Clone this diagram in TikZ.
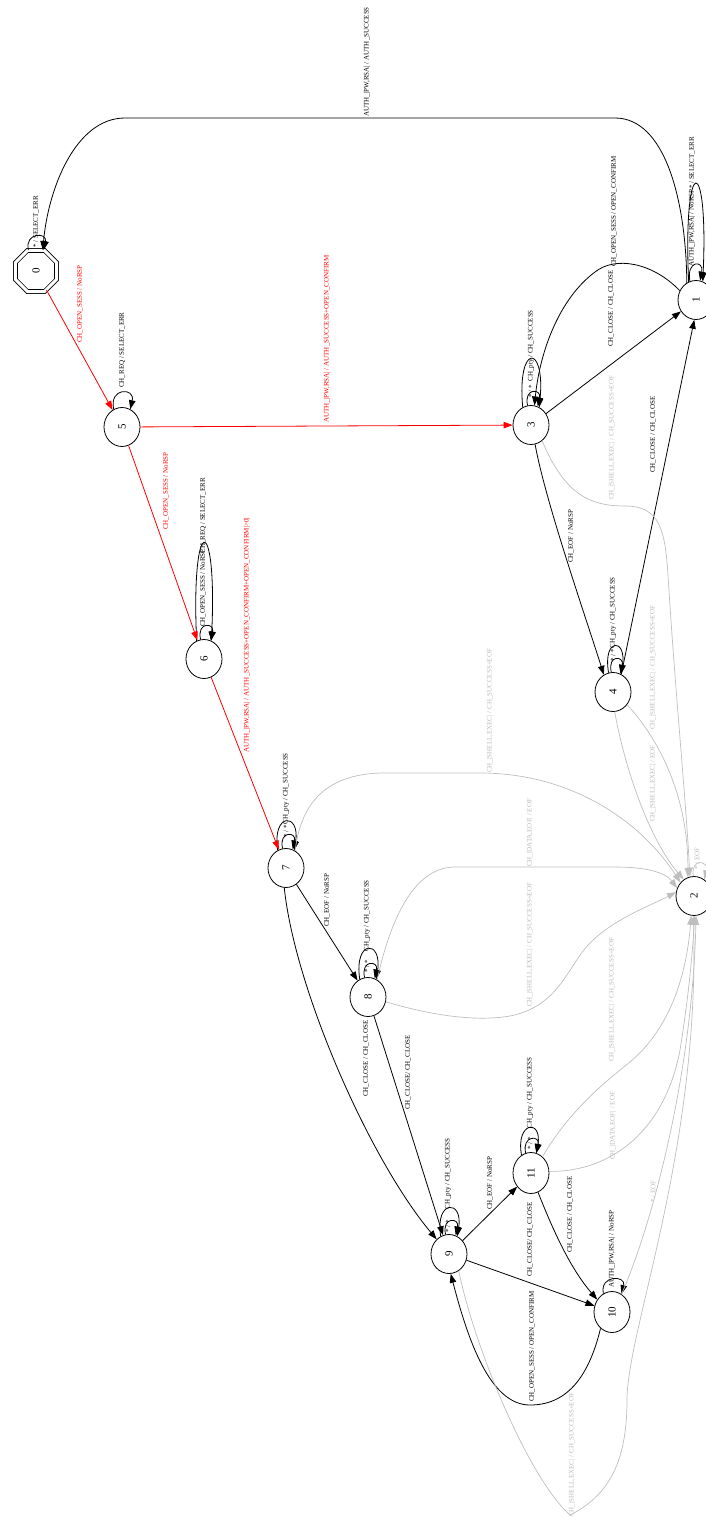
\documentclass[tikz,border=0pt]{standalone}
\usepackage{fontspec}
\setmainfont{Liberation Serif}
\usetikzlibrary{arrows.meta,shapes.geometric}
\definecolor{gr}{RGB}{190,190,190}
\definecolor{grt}{RGB}{185,185,185}
\begin{document}
\begin{tikzpicture}[x=1pt,y=-1pt,
  st/.style={ellipse, draw, line width=0.8pt, minimum width=36pt, minimum height=39pt, inner sep=0pt, font=\fontsize{11}{12}\selectfont},
  stw/.style={st, minimum height=41pt},
  lb/.style={rotate=90, font=\fontsize{7}{8}\selectfont, inner sep=0pt, anchor=west},
  lbe/.style={lb, anchor=east},
  ed/.style={line width=0.8pt, -{Triangle[length=9pt,width=6.5pt]}},
  edr/.style={ed, red},
  edg/.style={ed, gr, line width=0.7pt}]
\useasboundingbox (0,0) rectangle (706,1517);
% states
\node[regular polygon, regular polygon sides=8, minimum size=44.4pt, draw, line width=0.8pt, double=white, double distance=3pt, inner sep=0pt, font=\fontsize{11}{12}\selectfont] (n0) at (36,271) {\rotatebox{90}{0}};
\node[st] (n5) at (122,427) {\rotatebox{90}{5}};
\node[st] (n3) at (531,425) {\rotatebox{90}{3}};
\node[st] (n1) at (696,300) {\rotatebox{90}{1}};
\node[st] (n6) at (204,659) {\rotatebox{90}{6}};
\node[st] (n7) at (286,868) {\rotatebox{90}{7}};
\node[st] (n4) at (613,692) {\rotatebox{90}{4}};
\node[st] (n2) at (694,896) {\rotatebox{90}{2}};
\node[st] (n8) at (368,997) {\rotatebox{90}{8}};
\node[st] (n9) at (449,1254) {\rotatebox{90}{9}};
\node[stw] (n11) at (531,1173) {\rotatebox{90}{11}};
\node[stw] (n10) at (612,1312) {\rotatebox{90}{10}};
% black edges
\draw[ed] (n1.118) .. controls (686,200) and (665,118) .. (615,118) -- (125,118) .. controls (75,118) and (48,190) .. (n0.72);
\draw[ed] (n0.110) .. controls +(-4,-18) and +(4,-18) .. (n0.70);
\draw[ed] (n5.115) .. controls +(-5,-22) and +(5,-22) .. (n5.65);
\draw[ed] (n6.100) .. controls +(-4,-18) and +(4,-18) .. (n6.70);
\draw[ed] (n6.112) .. controls +(-6,-130) and +(6,-130) .. (n6.68);
\draw[ed] (n7.100) .. controls +(-4,-18) and +(4,-18) .. (n7.70);
\draw[ed] (n7.115) .. controls +(-6,-38) and +(6,-38) .. (n7.65);
\draw[ed] (n7) -- (n8);
\draw[ed] (n7.265) .. controls (295,990) and (370,1160) .. (n9.130);
\draw[ed] (n8.100) .. controls +(-4,-18) and +(4,-18) .. (n8.70);
\draw[ed] (n8.115) .. controls +(-6,-40) and +(6,-40) .. (n8.65);
\draw[ed] (n8) -- (n9);
\draw[ed] (n9.100) .. controls +(-4,-18) and +(4,-18) .. (n9.70);
\draw[ed] (n9.115) .. controls +(-6,-37) and +(6,-37) .. (n9.65);
\draw[ed] (n9) -- (n11);
\draw[ed] (n9) -- (n10);
\draw[ed] (n11.105) .. controls +(-4,-18) and +(4,-18) .. (n11.75);
\draw[ed] (n11.118) .. controls +(-6,-34) and +(6,-34) .. (n11.75);
\draw[ed] (n11.290) .. controls (553,1230) and (570,1268) .. (n10.140);
\draw[ed] (n10.115) .. controls +(-4,-19) and +(5,-19) .. (n10.62);
\draw[ed] (n10.235) .. controls (588,1380) and (565,1405) .. (530,1405) .. controls (490,1405) and (468,1340) .. (n9.275);
\draw[ed] (n3.100) .. controls +(-4,-18) and +(4,-18) .. (n3.70);
\draw[ed] (n3.115) .. controls +(-6,-64) and +(6,-64) .. (n3.65);
\draw[ed] (n3) -- (n1);
\draw[ed] (n1.150) .. controls (652,262) and (615,256) .. (595,272) .. controls (560,298) and (540,350) .. (n3.80);
\draw[ed] (n3.282) .. controls (545,500) and (585,615) .. (n4.118);
\draw[ed] (n4.65) -- (n1.265);
\draw[ed] (n4.95) .. controls +(-4,-18) and +(4,-18) .. (n4.68);
\draw[ed] (n4.103) .. controls +(-6,-36) and +(6,-36) .. (n4.66);
\draw[ed] (n1.108) .. controls +(-4,-21) and +(4,-21) .. (n1.78);
\draw[ed] (n1.112) .. controls +(-6,-130) and +(6,-130) .. (n1.70);
% red edges
\draw[edr] (n0) -- (n5);
\draw[edr] (n5) -- (n3);
\draw[edr] (n5) -- (n6);
\draw[edr] (n6) -- (n7);
% gray edges
\draw[edg] (n7.62) .. controls (300,810) and (320,773) .. (385,773) -- (480,773) .. controls (570,773) and (640,820) .. (n2.135);
\draw[edg] (n8.62) .. controls (388,930) and (410,867) .. (455,867) -- (615,867) .. controls (645,867) and (665,872) .. (n2.155);
\draw[edg] (n8.345) .. controls (430,1015) and (475,1022) .. (510,1016) .. controls (560,1006) and (568,965) .. (590,943) .. controls (615,918) and (650,906) .. (n2.168);
\draw[edg] (n11.55) .. controls (570,1110) and (605,1082) .. (630,1062) .. controls (668,1030) and (686,980) .. (n2.262);
\draw[edg] (n11.5) .. controls (612,1172) and (665,1130) .. (680,1050) .. controls (688,1000) and (692,960) .. (n2.272);
\draw[edg] (n10.62) .. controls (650,1230) and (692,1080) .. (n2.276);
\draw[edg] (n9.300) .. controls (475,1350) and (530,1480) .. (570,1515) .. controls (610,1495) and (627,1460) .. (627,1400) .. controls (627,1330) and (700,1150) .. (n2.268);
\draw[edg] (n3.305) .. controls (565,495) and (590,506) .. (625,506) .. controls (660,506) and (665,530) .. (668,575) .. controls (675,690) and (686,800) .. (n2.102);
\draw[edg] (n4.275) .. controls (625,770) and (650,840) .. (n2.122);
\draw[edg] (n4.318) .. controls (655,735) and (688,790) .. (n2.108);
\draw[edg] (n2.92) .. controls +(-3,-19) and +(5,-19) .. (n2.58);
% black labels
\node[lb] (t1) at (367,117) {AUTH\_|PW,RSA| / AUTH\_SUCCESS};
\node[lb] (t2) at (36,248) {* / SELECT\_ERR};
\node[lb] (t3) at (122,388) {CH\_REQ / SELECT\_ERR};
\node[lb] (t4) at (203,627) {CH\_OPEN\_SESS / NoRSP};
\node[lbe] (t5) at (203,478) {CH\_REQ / SELECT\_ERR};
\node[lb] (t6) at (286,838) {* / *};
\node[lbe] (t7) at (286,753) {CH\_pty / CH\_SUCCESS};
\node[lb] (t8) at (327,927) {CH\_EOF / NoRSP};
\node[lb] (t9) at (366,1097) {CH\_CLOSE / CH\_CLOSE};
\node[lb] (t10) at (367,973) {* / *};
\node[lbe] (t11) at (367,880) {CH\_pty / CH\_SUCCESS};
\node[lb] (t12) at (408,1110) {CH\_CLOSE/ CH\_CLOSE};
\node[lb] (t13) at (448,1233) {* / *};
\node[lbe] (t14) at (448,1138) {CH\_pty / CH\_SUCCESS};
\node[lb] (t15) at (490,1210) {CH\_EOF / NoRSP};
\node[lb] (t16) at (530,1277) {CH\_CLOSE/ CH\_CLOSE};
\node[lb] (t17) at (570,1253) {CH\_CLOSE / CH\_CLOSE};
\node[lb] (t18) at (530,1150) {* / *};
\node[lbe] (t19) at (530,1057) {CH\_pty / CH\_SUCCESS};
\node[lb] (t20) at (612,1288) {AUTH\_|PW,RSA| / NoRSP};
\node[lb] (t21) at (532,1402) {CH\_OPEN\_SESS / OPEN\_CONFIRM};
\node[lb] (t22) at (531,398) {* / *};
\node[lbe] (t23) at (531,310) {CH\_pty / CH\_SUCCESS};
\node[lb] (t24) at (611,347) {CH\_CLOSE / CH\_CLOSE};
\node[lb] (t25) at (614,267) {CH\_OPEN\_SESS / OPEN\_CONFIRM};
\node[lb] (t26) at (692,267) {AUTH\_|PW,RSA| / NoRSP};
\node[lbe] (t27) at (692,137) {* / SELECT\_ERR};
\node[lb] (t28) at (571,563) {CH\_EOF / NoRSP};
\node[lb] (t29) at (653,473) {CH\_CLOSE / CH\_CLOSE};
\node[lb] (t30) at (613,662) {* / *};
\node[lbe] (t31) at (613,577) {CH\_pty / CH\_SUCCESS};
% red labels
\node[lb, red] (t32) at (80,343) {CH\_OPEN\_SESS / NoRSP};
\node[lb, red] (t33) at (327,423) {AUTH\_|PW,RSA| / AUTH\_SUCCESS+OPEN\_CONFIRM};
\node[lb, red] (t34) at (166,530) {CH\_OPEN\_SESS / NoRSP};
\node[lb, red] (t35) at (247,753) {AUTH\_|PW,RSA| / AUTH\_SUCCESS+OPEN\_CONFIRM+OPEN\_CONFIRM|>0|};
% gray labels
\node[lb, grt] (t36) at (490,773) {CH\_|SHELL,EXEC| / CH\_SUCCESS+EOF};
\node[lb, grt] (t37) at (530,867) {CH\_|DATA,EOF| / EOF};
\node[lb, grt] (t38) at (530,1007) {CH\_|SHELL,EXEC| / CH\_SUCCESS+EOF};
\node[lb, grt] (t39) at (612,1062) {CH\_|SHELL,EXEC| / CH\_SUCCESS+EOF};
\node[lb, grt] (t40) at (613,1160) {CH\_|DATA,EOF| / EOF};
\node[lb, grt] (t41) at (653,1203) {* / EOF};
\node[lb, grt] (t42) at (572,1517) {CH\_|SHELL,EXEC| / CH\_SUCCESS+EOF};
\node[lb, grt] (t43) at (612,500) {CH\_|SHELL,EXEC| / CH\_SUCCESS+EOF};
\node[lb, grt] (t44) at (653,822) {CH\_|SHELL,EXEC| / EOF};
\node[lb, grt] (t45) at (653,730) {CH\_|SHELL,EXEC| / CH\_SUCCESS+EOF};
\node[lb, grt] (t46) at (697,870) {* / EOF};
\end{tikzpicture}
\end{document}
